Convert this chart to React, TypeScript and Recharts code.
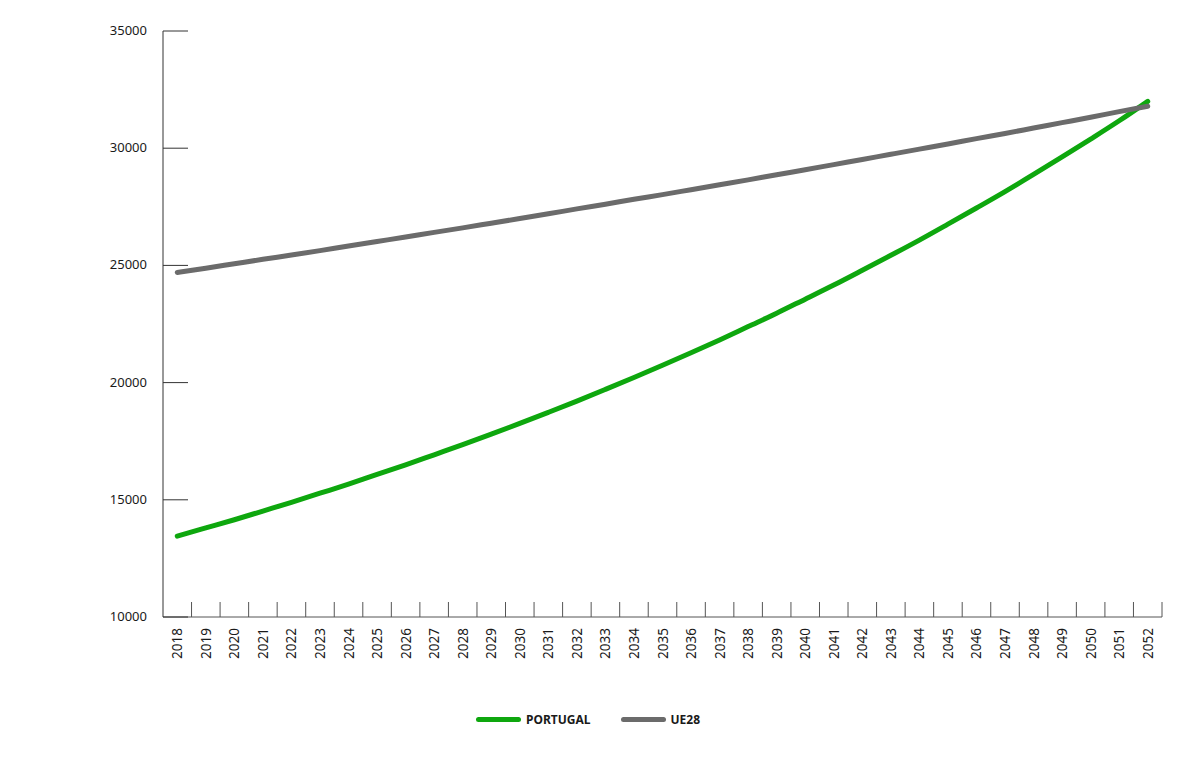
import React from 'react';
import { LineChart, Line, XAxis, YAxis, Legend } from 'recharts';

const years = [
  '2018', '2019', '2020', '2021', '2022', '2023', '2024', '2025', '2026', '2027',
  '2028', '2029', '2030', '2031', '2032', '2033', '2034', '2035', '2036', '2037',
  '2038', '2039', '2040', '2041', '2042', '2043', '2044', '2045', '2046', '2047',
  '2048', '2049', '2050', '2051', '2052'
];

const portugal = [
  13450, 13800, 14150, 14520, 14890, 15280, 15670, 16080, 16490, 16920,
  17350, 17800, 18260, 18730, 19210, 19710, 20220, 20740, 21270, 21820,
  22390, 22960, 23560, 24160, 24790, 25430, 26080, 26760, 27450, 28150,
  28880, 29630, 30390, 31170, 32000
];

const ue28 = [
  24700, 24880, 25070, 25260, 25440, 25630, 25830, 26020, 26210, 26410,
  26600, 26800, 27000, 27200, 27410, 27610, 27820, 28020, 28230, 28440,
  28650, 28870, 29080, 29300, 29520, 29740, 29960, 30180, 30410, 30630,
  30860, 31090, 31320, 31560, 31790
];

const yTicks = [10000, 15000, 20000, 25000, 30000, 35000];

const data = years.map((year, i) => ({
  year,
  portugal: portugal[i],
  ue28: ue28[i]
}));

const FONT = '"Noto Sans", "Open Sans", sans-serif';
const GREEN = '#0ea70e';
const GREY = '#6b6b6b';

const WIDTH = 1200;
const HEIGHT = 767;
const MARGIN = { top: 31, right: 38, bottom: 50, left: 103 };
const Y_AXIS_W = 60;
const PLOT_W = WIDTH - MARGIN.left - Y_AXIS_W - MARGIN.right;
const BAND = PLOT_W / years.length;

const YTick = ({ x, y, payload }: any) => (
  <g>
    <line x1={x} x2={x + 25} y1={y} y2={y} stroke="#333" strokeWidth={1} />
    <text
      x={x - 16}
      y={y}
      dy={4}
      textAnchor="end"
      fontSize={13}
      fontFamily={FONT}
      fill="#1a1a1a"
    >
      {payload.value}
    </text>
  </g>
);

const XTick = ({ x, y, payload }: any) => (
  <g>
    <line
      x1={x + BAND / 2}
      x2={x + BAND / 2}
      y1={y}
      y2={y - 15}
      stroke="#555"
      strokeWidth={1}
    />
    <text
      x={x + 5}
      y={y + 11}
      transform={`rotate(-90, ${x + 5}, ${y + 11})`}
      textAnchor="end"
      fontSize={13.5}
      fontFamily={FONT}
      fill="#1a1a1a"
    >
      {payload.value}
    </text>
  </g>
);

const LegendContent = ({ payload }: any) => (
  <div
    style={{
      display: 'flex',
      alignItems: 'center',
      paddingLeft: 476,
      fontFamily: FONT,
      fontSize: 12,
      fontWeight: 700,
      color: '#1a1a1a'
    }}
  >
    {(payload || []).map((entry: any) => (
      <div
        key={entry.value}
        style={{ display: 'flex', alignItems: 'center', marginRight: 30 }}
      >
        <span
          style={{
            display: 'inline-block',
            width: 45,
            height: 5,
            borderRadius: 3,
            background: entry.color,
            marginRight: 5
          }}
        />
        <span>{entry.value}</span>
      </div>
    ))}
  </div>
);

export default function App() {
  return (
    <div style={{ position: 'absolute', left: 0, top: 0, background: '#fff' }}>
      <LineChart width={WIDTH} height={HEIGHT} data={data} margin={MARGIN}>
        <XAxis
          dataKey="year"
          scale="band"
          interval={0}
          height={70}
          tickSize={0}
          tickMargin={0}
          tickLine={false}
          tick={<XTick />}
          axisLine={{ stroke: '#555', strokeWidth: 1 }}
        />
        <YAxis
          width={Y_AXIS_W}
          domain={[10000, 35000]}
          ticks={yTicks}
          tickSize={0}
          tickMargin={0}
          tickLine={false}
          tick={<YTick />}
          axisLine={{ stroke: '#333', strokeWidth: 1 }}
        />
        <Legend
          height={30}
          verticalAlign="bottom"
          content={<LegendContent />}
          wrapperStyle={{ left: 0, top: 711, width: WIDTH }}
        />
        <Line
          type="monotone"
          dataKey="portugal"
          name="PORTUGAL"
          stroke={GREEN}
          strokeWidth={5}
          strokeLinecap="round"
          dot={false}
          activeDot={false}
          isAnimationActive={false}
        />
        <Line
          type="monotone"
          dataKey="ue28"
          name="UE28"
          stroke={GREY}
          strokeWidth={5}
          strokeLinecap="round"
          dot={false}
          activeDot={false}
          isAnimationActive={false}
        />
      </LineChart>
    </div>
  );
}
